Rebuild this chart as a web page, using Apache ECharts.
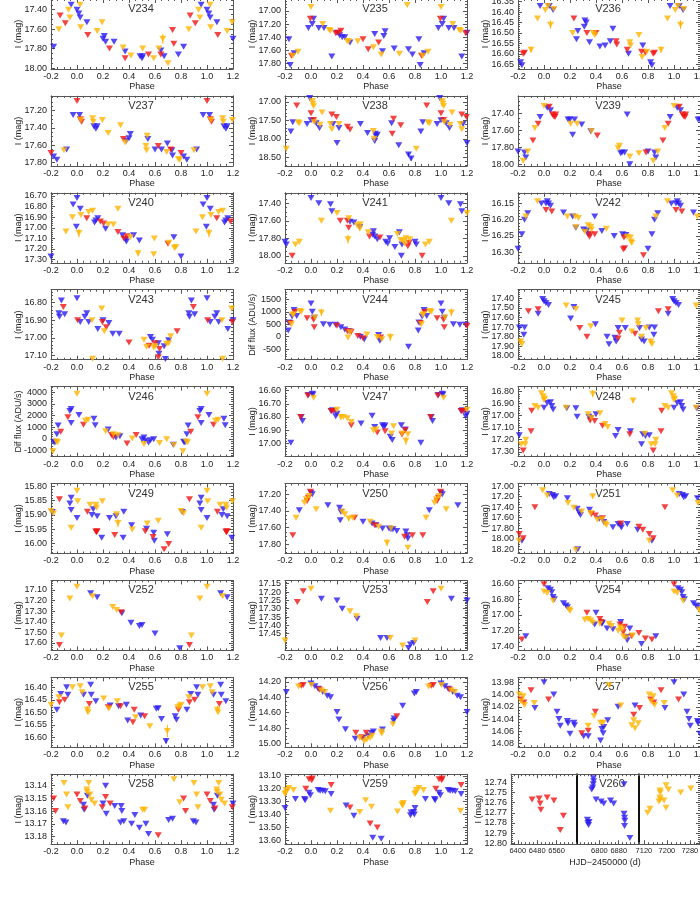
<!DOCTYPE html>
<html><head><meta charset="utf-8">
<script src="https://cdn.jsdelivr.net/npm/echarts@6/dist/echarts.min.js"></script>
<style>html,body{margin:0;padding:0;background:#fff}#c{width:700px;height:900px}</style>
</head><body><div id="c"></div>
<script>
// ---------------- DATA (phase in [0,1), magnitude / flux) ----------------
const PHASE_TICKS = [-0.2,0.0,0.2,0.4,0.6,0.8,1.0,1.2];

const V234_blue=[[0.0,17.40],[0.014,17.44],[0.024,17.48],[0.076,17.53],[0.20,17.70],[0.21,17.67],[0.22,17.73],[0.285,17.73],[0.37,17.83],[0.485,17.88],[0.50,17.90],[0.505,17.88],[0.645,17.82],[0.67,17.88],[0.78,17.86],[0.82,17.78],[0.955,17.35]];
const V234_red=[[0.083,17.66],[0.25,17.80],[0.37,17.90],[0.55,17.86],[0.645,17.86],[0.735,17.61],[0.745,17.75],[0.87,17.46],[0.91,17.54]];
const V234_orange=[[0.024,17.35],[0.028,17.58],[0.155,17.62],[0.193,17.53],[0.355,17.79],[0.415,17.87],[0.505,17.80],[0.59,17.90],[0.63,17.80],[0.66,17.70],[0.70,17.95],[0.86,17.60],[0.935,17.40],[0.945,17.48]];
const V234_err=[[0.66,17.70,0.05,2]];

const V235_blue=[[0.02,17.12],[0.01,17.20],[0.98,17.26],[0.06,17.26],[0.10,17.26],[0.16,17.69],[0.20,17.33],[0.22,17.37],[0.24,17.40],[0.26,17.40],[0.30,17.48],[0.49,17.35],[0.55,17.61],[0.56,17.38],[0.57,17.31],[0.64,17.57],[0.75,17.58],[0.78,17.66],[0.83,17.43],[0.84,17.82],[0.87,17.64]];
const V235_red=[[0.995,17.12],[0.19,17.34],[0.21,17.33],[0.23,17.30],[0.40,17.43],[0.44,17.58],[0.52,17.48],[0.85,17.68]];
const V235_orange=[[0.0,16.94],[0.09,17.20],[0.14,17.29],[0.15,17.30],[0.28,17.46],[0.29,17.46],[0.36,17.46],[0.48,17.55],[0.54,17.66],[0.68,17.65],[0.74,16.91],[0.86,17.68],[0.90,17.62]];

const V236_blue=[[0.82,16.64],[0.83,16.655],[0.97,16.37],[0.04,16.37],[0.07,16.39],[0.25,16.53],[0.26,16.49],[0.31,16.47],[0.315,16.44],[0.325,16.45],[0.35,16.545],[0.43,16.565],[0.47,16.56],[0.51,16.54],[0.53,16.48],[0.65,16.60],[0.76,16.56]];
const V236_red=[[0.84,16.60],[0.23,16.43],[0.33,16.50],[0.40,16.50],[0.555,16.54],[0.56,16.555],[0.64,16.58],[0.75,16.59],[0.78,16.595],[0.85,16.595]];
const V236_orange=[[0.90,16.58],[0.95,16.43],[0.01,16.39],[0.03,16.37],[0.05,16.46],[0.075,16.385],[0.22,16.50],[0.38,16.50],[0.39,16.51],[0.66,16.545],[0.665,16.56],[0.73,16.51],[0.755,16.615],[0.79,16.59]];
const V236_err=[[0.05,16.46,0.02,2],[0.90,16.58,0.015,2]];

const V237_blue=[[0.02,17.25],[0.13,17.38],[0.145,17.41],[0.155,17.38],[0.38,17.55],[0.40,17.52],[0.41,17.47],[0.545,17.53],[0.60,17.65],[0.65,17.65],[0.695,17.58],[0.73,17.66],[0.735,17.72],[0.82,17.73],[0.845,17.77],[0.92,17.65],[0.97,17.25]];
const V237_red=[[0.0,17.09],[0.025,17.30],[0.035,17.33],[0.357,17.53],[0.625,17.61],[0.72,17.65],[0.80,17.69]];
const V237_orange=[[0.03,17.31],[0.12,17.29],[0.125,17.33],[0.195,17.31],[0.24,17.46],[0.335,17.37],[0.37,17.57],[0.53,17.61],[0.535,17.66],[0.54,17.49],[0.69,17.68],[0.79,17.77],[0.78,17.76],[0.90,17.66]];

const V238_blue=[[0.99,16.90],[0.0,17.50],[0.04,17.58],[0.065,17.71],[0.17,17.60],[0.20,18.11],[0.215,17.71],[0.38,17.60],[0.435,17.84],[0.49,18.06],[0.495,17.86],[0.50,17.93],[0.51,17.89],[0.62,17.58],[0.675,18.17],[0.75,18.42],[0.77,18.53],[0.845,17.80],[0.86,17.55],[0.97,17.60]];
const V238_red=[[0.0,17.31],[0.02,17.49],[0.16,17.34],[0.195,17.41],[0.28,17.67],[0.30,17.75],[0.625,17.86],[0.635,17.46],[0.69,17.63],[0.89,17.10]];
const V238_orange=[[0.01,16.98],[0.015,17.05],[0.02,17.12],[0.025,17.55],[0.07,17.62],[0.085,17.29],[0.15,17.60],[0.16,17.74],[0.215,17.60],[0.48,17.79],[0.485,18.00],[0.81,18.27],[0.90,17.55],[0.91,17.58]];
const V238_err=[[0.75,18.42,0.05,0],[0.77,18.53,0.06,0]];

const V239_blue=[[0.025,17.33],[0.05,17.36],[0.185,17.47],[0.20,17.47],[0.22,17.65],[0.235,17.47],[0.29,17.53],[0.36,17.61],[0.59,17.87],[0.60,17.86],[0.62,17.86],[0.64,17.41],[0.66,18.00],[0.80,17.85],[0.85,17.86],[0.86,17.92],[0.97,17.44]];
const V239_red=[[0.04,17.32],[0.065,17.41],[0.075,17.43],[0.09,17.41],[0.085,17.44],[0.41,17.66],[0.785,17.86],[0.915,17.72],[0.955,17.52]];
const V239_orange=[[0.0,17.31],[0.205,17.52],[0.255,17.52],[0.365,17.61],[0.57,17.81],[0.58,17.78],[0.66,17.91],[0.73,17.87],[0.84,17.96],[0.875,17.85],[0.93,17.57]];

const V240_blue=[[0.97,16.78],[0.0,16.72],[0.995,16.99],[0.025,16.82],[0.135,16.95],[0.145,16.93],[0.16,16.91],[0.22,17.01],[0.35,17.07],[0.375,17.11],[0.38,17.13],[0.435,17.07],[0.48,17.12],[0.745,17.09],[0.80,17.27]];
const V240_red=[[0.075,16.91],[0.18,16.94],[0.205,16.96],[0.315,17.04],[0.36,17.10],[0.385,17.08],[0.70,17.15]];
const V240_orange=[[0.965,16.90],[0.015,17.05],[0.03,16.88],[0.09,16.85],[0.12,16.84],[0.24,16.97],[0.28,16.97],[0.315,16.82],[0.41,17.09],[0.47,17.24],[0.595,17.10],[0.59,17.25],[0.705,17.14],[0.75,17.19],[0.76,17.18],[0.915,17.035]];
const V240_err=[[0.015,17.05,0.04,2],[0.47,17.24,0.03,2]];

const V241_blue=[[0.0,17.34],[0.06,17.40],[0.15,17.41],[0.16,17.49],[0.30,17.61],[0.33,17.62],[0.375,17.67],[0.475,17.76],[0.48,17.72],[0.49,17.78],[0.51,17.81],[0.575,17.84],[0.59,17.86],[0.605,17.80],[0.645,17.90],[0.68,17.73],[0.695,18.00],[0.70,17.87],[0.80,17.84],[0.81,17.87]];
const V241_red=[[0.225,17.60],[0.28,17.60],[0.29,17.68],[0.45,17.78],[0.53,17.79],[0.745,17.89],[0.755,17.85],[0.855,18.00]];
const V241_orange=[[0.08,17.60],[0.20,17.51],[0.29,17.57],[0.285,17.81],[0.355,17.65],[0.38,17.64],[0.375,17.69],[0.44,17.73],[0.665,17.75],[0.69,17.82],[0.71,17.83],[0.72,17.86],[0.73,17.80],[0.76,17.81],[0.88,17.87],[0.91,17.84]];
const V241_err=[[0.285,17.81,0.05,2]];

const V242_blue=[[0.98,16.15],[0.015,16.15],[0.025,16.143],[0.035,16.15],[0.05,16.157],[0.15,16.178],[0.22,16.19],[0.245,16.225],[0.305,16.23],[0.33,16.233],[0.34,16.245],[0.39,16.19],[0.445,16.235],[0.54,16.25],[0.605,16.245],[0.63,16.247],[0.80,16.29],[0.83,16.245],[0.85,16.20],[0.875,16.18]];
const V242_red=[[0.015,16.17],[0.06,16.175],[0.35,16.253],[0.355,16.245],[0.39,16.245],[0.615,16.255],[0.62,16.288],[0.61,16.291],[0.765,16.31]];
const V242_orange=[[0.95,16.143],[0.18,16.19],[0.24,16.19],[0.245,16.223],[0.265,16.195],[0.315,16.237],[0.34,16.217],[0.36,16.222],[0.365,16.23],[0.48,16.228],[0.64,16.253],[0.665,16.255],[0.67,16.267],[0.675,16.272],[0.86,16.19]];

const V243_blue=[[0.0,16.774],[0.025,16.91],[0.06,16.88],[0.075,16.86],[0.09,16.91],[0.16,16.95],[0.20,16.90],[0.245,16.915],[0.275,16.977],[0.325,16.977],[0.565,16.995],[0.58,17.01],[0.625,17.03],[0.63,17.09],[0.67,17.048],[0.705,17.013],[0.86,16.86],[0.865,16.88],[0.88,16.787],[0.905,16.866],[0.68,17.12]];
const V243_red=[[0.005,16.90],[0.195,16.91],[0.225,16.94],[0.40,17.026],[0.555,17.045],[0.60,17.03],[0.635,17.063],[0.625,17.11],[0.77,16.962],[0.895,16.824]];
const V243_orange=[[0.115,16.90],[0.19,16.833],[0.21,16.962],[0.515,17.01],[0.535,17.05],[0.59,17.054],[0.60,17.048],[0.69,17.035],[0.705,17.03],[0.72,16.99],[0.12,17.118]];

const V244_blue=[[0.0,1330],[0.01,1000],[0.025,760],[0.095,500],[0.145,480],[0.19,480],[0.23,376],[0.26,285],[0.295,220],[0.38,-3],[0.41,-110],[0.52,65],[0.53,-170],[0.75,-410],[0.825,245],[0.83,570],[0.855,807],[0.87,1070],[0.89,830]];
const V244_red=[[0.02,680],[0.025,376],[0.20,440],[0.28,220],[0.31,200],[0.36,23],[0.40,-70],[0.535,-40],[0.84,545],[0.875,990],[0.97,740]];
const V244_orange=[[0.03,768],[0.08,975],[0.285,-40],[0.30,180],[0.43,90],[0.51,-16],[0.545,-110],[0.61,-16],[0.85,510],[0.86,870],[0.865,900],[0.915,1030],[0.925,1000]];
const V244_err=[[0.08,975,150,2],[0.61,-16,150,2]];

const V245_blue=[[0.99,17.407],[0.0,17.43],[0.015,17.45],[0.035,17.47],[0.205,17.61],[0.23,17.49],[0.395,17.67],[0.485,17.80],[0.50,17.88],[0.545,17.81],[0.555,17.85],[0.57,17.71],[0.625,17.71],[0.735,17.71],[0.75,17.83],[0.77,17.85],[0.81,17.705],[0.845,17.78],[0.85,17.705],[0.955,17.56]];
const V245_red=[[0.275,17.71],[0.33,17.80],[0.57,17.82],[0.58,17.76],[0.70,17.77],[0.88,17.535],[0.955,17.515]];
const V245_orange=[[0.17,17.475],[0.245,17.51],[0.36,17.69],[0.60,17.63],[0.675,17.745],[0.72,17.63],[0.725,17.67],[0.75,17.80],[0.785,17.71],[0.82,17.85],[0.83,17.875]];
const V245_err=[[0.82,17.85,0.03,2]];

const V246_blue=[[0.015,2050],[0.13,1720],[0.14,1160],[0.24,800],[0.30,110],[0.33,220],[0.50,-30],[0.515,110],[0.525,-170],[0.55,-310],[0.565,-110],[0.59,-30],[0.74,-500],[0.82,-250],[0.83,-310],[0.845,390],[0.855,1140],[0.945,2390],[0.955,2560],[0.955,1360]];
const V246_red=[[0.05,1220],[0.265,330],[0.28,170],[0.385,-390],[0.455,330],[0.875,600],[0.93,1860]];
const V246_orange=[[0.0,3860],[0.065,1560],[0.085,1640],[0.22,660],[0.28,390],[0.315,300],[0.425,30],[0.515,-450],[0.635,-360],[0.69,-30],[0.745,-530],[0.815,-1060],[0.84,-220],[0.85,-280]];

const V247_blue=[[0.98,16.633],[0.01,16.625],[0.015,16.63],[0.155,16.755],[0.165,16.75],[0.19,16.795],[0.20,16.775],[0.385,16.85],[0.47,16.79],[0.49,16.875],[0.55,16.862],[0.56,16.875],[0.57,16.865],[0.61,16.95],[0.625,16.975],[0.695,16.862],[0.725,16.895],[0.845,16.995],[0.925,16.80],[0.935,16.83]];
const V247_red=[[0.975,16.637],[0.155,16.755],[0.175,16.755],[0.31,16.862],[0.51,16.918],[0.57,16.908],[0.70,16.933],[0.725,16.90],[0.92,16.80]];
const V247_orange=[[0.02,16.655],[0.20,16.745],[0.23,16.80],[0.25,16.80],[0.28,16.81],[0.31,16.838],[0.48,16.90],[0.50,16.895],[0.62,16.925],[0.635,16.87],[0.70,16.925],[0.73,16.98],[0.745,16.93]];
const V247_err=[[0.73,16.98,0.03,2],[0.23,16.80,0.02,2]];

const V248_blue=[[0.0,16.935],[0.025,16.895],[0.05,16.89],[0.06,16.92],[0.07,16.95],[0.175,16.94],[0.245,16.94],[0.255,17.01],[0.345,17.01],[0.36,17.02],[0.40,16.99],[0.55,17.17],[0.57,17.12],[0.665,17.13],[0.75,17.237],[0.76,17.155],[0.78,17.17],[0.81,17.163]];
const V248_red=[[0.355,17.04],[0.39,17.045],[0.45,17.085],[0.66,17.155],[0.84,17.29],[0.90,17.13],[0.905,16.96]];
const V248_orange=[[0.98,16.815],[0.995,16.84],[0.0,16.87],[0.005,16.86],[0.17,16.935],[0.34,16.99],[0.365,17.02],[0.375,16.82],[0.43,16.98],[0.47,17.07],[0.49,17.095],[0.685,16.876],[0.775,17.15],[0.825,17.237],[0.855,17.237],[0.86,17.20],[0.93,16.92],[0.955,16.935]];
const V248_err=[[0.375,16.82,0.03,2],[0.685,16.876,0.02,2]];

const V249_blue=[[0.0,15.911],[0.115,15.90],[0.125,15.88],[0.155,15.905],[0.19,15.98],[0.25,15.911],[0.30,15.905],[0.36,15.889],[0.355,15.98],[0.42,15.936],[0.535,15.948],[0.59,15.962],[0.595,15.99],[0.695,15.968],[0.81,15.89],[0.945,15.86],[0.955,15.84],[0.955,15.883]];
const V249_red=[[0.08,15.889],[0.145,15.958],[0.15,15.96],[0.155,15.957],[0.29,15.97],[0.525,15.957],[0.585,15.977],[0.67,16.02],[0.705,16.002],[0.865,15.845]];
const V249_orange=[[0.0,15.815],[0.005,15.852],[0.10,15.864],[0.145,15.864],[0.15,15.875],[0.195,15.852],[0.305,15.898],[0.315,15.928],[0.425,15.951],[0.54,15.93],[0.625,15.92],[0.80,15.886],[0.82,15.894],[0.955,15.945]];
const V249_err=[[0.315,15.928,0.015,2],[0.15,15.96,0.008,1]];

const V250_blue=[[0.0,17.18],[0.01,17.20],[0.13,17.33],[0.22,17.36],[0.225,17.51],[0.23,17.41],[0.40,17.53],[0.47,17.55],[0.50,17.57],[0.55,17.61],[0.60,17.61],[0.615,17.62],[0.63,17.62],[0.66,17.64],[0.73,17.645],[0.74,17.69],[0.745,17.73],[0.91,17.39]];
const V250_red=[[0.97,17.28],[0.98,17.24],[0.995,17.17],[0.335,17.48],[0.49,17.57],[0.72,17.71],[0.78,17.69],[0.86,17.69]];
const V250_orange=[[0.95,17.30],[0.965,17.26],[0.985,17.22],[0.04,17.38],[0.24,17.41],[0.26,17.44],[0.29,17.49],[0.32,17.48],[0.455,17.53],[0.52,17.59],[0.585,17.78],[0.615,17.61],[0.745,17.84],[0.885,17.48]];
const V250_err=[[0.585,17.78,0.04,2],[0.29,17.49,0.03,2]];

const V251_blue=[[0.04,17.15],[0.065,17.17],[0.075,17.21],[0.09,17.19],[0.18,17.23],[0.255,17.43],[0.26,18.20],[0.27,17.50],[0.28,17.55],[0.35,17.45],[0.425,17.62],[0.46,17.68],[0.53,17.78],[0.57,17.72],[0.59,17.75],[0.595,17.785],[0.64,17.72],[0.72,17.83],[0.83,18.04]];
const V251_red=[[0.365,17.53],[0.395,17.56],[0.45,17.61],[0.59,17.71],[0.73,17.77],[0.76,17.83],[0.81,17.91],[0.84,17.99],[0.93,17.40]];
const V251_orange=[[0.99,17.08],[0.025,17.18],[0.185,17.32],[0.23,17.41],[0.245,18.21],[0.29,17.48],[0.36,17.51],[0.375,17.19],[0.41,17.64],[0.445,17.63],[0.47,17.71],[0.48,17.74],[0.81,18.04]];
const V251_err=[[0.375,17.19,0.04,2]];

const V252_blue=[[0.105,17.13],[0.155,17.17],[0.345,17.32],[0.415,17.41],[0.48,17.44],[0.50,17.43],[0.60,17.51],[0.79,17.65]];
const V252_red=[[0.34,17.31],[0.865,17.62]];
const V252_orange=[[0.0,17.07],[0.12,17.16],[0.275,17.26],[0.305,17.29],[0.88,17.53],[0.945,17.18]];

const V253_blue=[[0.08,17.24],[0.20,17.25],[0.24,17.30],[0.355,17.36],[0.535,17.475],[0.585,17.475],[0.75,17.535],[0.765,17.515],[0.79,17.505]];
const V253_red=[[0.895,17.26],[0.94,17.195]];
const V253_orange=[[0.0,17.18],[0.30,17.315],[0.35,17.345],[0.61,17.475],[0.705,17.52],[0.80,17.49]];

const V254_blue=[[0.03,16.66],[0.05,16.68],[0.06,16.71],[0.07,16.77],[0.08,16.80],[0.15,16.85],[0.17,16.88],[0.18,16.90],[0.39,17.12],[0.40,16.97],[0.445,17.11],[0.45,17.10],[0.485,17.17],[0.53,17.18],[0.59,17.09],[0.635,17.28],[0.64,17.32],[0.66,17.17],[0.75,17.37],[0.86,17.27]];
const V254_red=[[0.0,16.61],[0.33,16.97],[0.43,17.05],[0.44,17.09],[0.585,17.12],[0.61,17.22],[0.62,17.15],[0.675,17.27],[0.73,17.23],[0.78,17.30],[0.83,17.31]];
const V254_orange=[[0.0,16.70],[0.025,16.72],[0.07,16.82],[0.195,16.93],[0.20,16.95],[0.315,17.06],[0.34,17.05],[0.36,17.07],[0.375,17.10],[0.43,17.11],[0.50,17.11],[0.52,17.14],[0.57,17.20],[0.585,17.16],[0.60,17.18],[0.61,17.27],[0.63,17.29],[0.68,17.26]];

const V255_blue=[[0.05,16.43],[0.105,16.39],[0.11,16.43],[0.145,16.456],[0.255,16.473],[0.32,16.476],[0.38,16.47],[0.39,16.533],[0.49,16.513],[0.61,16.486],[0.625,16.484],[0.65,16.527],[0.685,16.615],[0.755,16.516],[0.765,16.53],[0.845,16.49],[0.875,16.427],[0.92,16.40],[0.93,16.43]];
const V255_red=[[0.095,16.467],[0.24,16.48],[0.335,16.476],[0.43,16.54],[0.44,16.49],[0.52,16.516],[0.78,16.49],[0.865,16.46],[0.905,16.45]];
const V255_orange=[[0.965,16.40],[0.025,16.396],[0.04,16.42],[0.08,16.49],[0.085,16.50],[0.205,16.445],[0.245,16.485],[0.31,16.456],[0.45,16.52],[0.56,16.556],[0.695,16.575],[0.775,16.48],[0.79,16.476],[0.80,16.47],[0.86,16.44]];
const V255_err=[[0.695,16.575,0.025,2],[0.08,16.49,0.015,2],[0.685,16.615,0.01,0]];

const V256_blue=[[0.0,14.22],[0.03,14.255],[0.055,14.29],[0.09,14.33],[0.125,14.38],[0.15,14.40],[0.20,14.59],[0.215,14.69],[0.265,14.815],[0.34,14.94],[0.40,14.93],[0.44,14.90],[0.465,14.865],[0.48,14.845],[0.55,14.82],[0.635,14.705],[0.64,14.675],[0.705,14.51],[0.795,14.35],[0.81,14.33]];
const V256_red=[[0.065,14.30],[0.345,14.86],[0.39,14.92],[0.425,14.86],[0.66,14.645],[0.925,14.25],[0.94,14.24]];
const V256_orange=[[0.005,14.24],[0.08,14.31],[0.105,14.33],[0.375,14.93],[0.41,14.97],[0.43,14.95],[0.455,14.93],[0.47,14.90],[0.54,14.845],[0.545,14.87],[0.63,14.75],[0.905,14.26]];

const V257_blue=[[0.0,13.98],[0.075,14.00],[0.10,14.028],[0.115,14.04],[0.125,14.051],[0.18,14.043],[0.185,14.047],[0.20,14.064],[0.23,14.046],[0.235,14.05],[0.305,14.068],[0.34,14.068],[0.435,14.075],[0.445,14.056],[0.455,14.063],[0.46,14.053],[0.49,14.042],[0.57,14.02],[0.70,14.018],[0.93,14.022]];
const V257_red=[[0.035,14.008],[0.29,14.063],[0.34,14.059],[0.395,14.028],[0.69,14.033],[0.735,14.022],[0.82,14.008],[0.845,14.013],[0.90,13.993]];
const V257_orange=[[0.34,14.051],[0.385,14.035],[0.435,14.046],[0.455,14.046],[0.50,13.985],[0.59,14.018],[0.675,14.05],[0.69,14.042],[0.70,14.055],[0.725,14.047],[0.81,14.00],[0.825,14.011],[0.84,14.003],[0.85,14.017],[0.925,14.014]];

const V258_blue=[[0.05,13.155],[0.055,13.159],[0.08,13.148],[0.20,13.154],[0.22,13.14],[0.225,13.162],[0.29,13.156],[0.34,13.156],[0.345,13.16],[0.335,13.169],[0.36,13.168],[0.42,13.17],[0.445,13.163],[0.48,13.173],[0.53,13.17],[0.55,13.178],[0.705,13.167],[0.735,13.166],[0.895,13.168],[0.915,13.169]];
const V258_red=[[0.0,13.147],[0.025,13.152],[0.06,13.158],[0.195,13.157],[0.22,13.149],[0.255,13.154],[0.625,13.179],[0.82,13.15],[0.835,13.16]];
const V258_orange=[[0.075,13.143],[0.078,13.145],[0.09,13.138],[0.10,13.147],[0.11,13.151],[0.135,13.154],[0.505,13.159],[0.52,13.159],[0.745,13.135],[0.79,13.153],[0.90,13.138],[0.92,13.147],[0.93,13.157]];

const V259_blue=[[0.985,13.23],[0.995,13.25],[0.055,13.21],[0.07,13.215],[0.09,13.215],[0.11,13.22],[0.155,13.24],[0.27,13.33],[0.33,13.41],[0.475,13.58],[0.54,13.587],[0.765,13.405],[0.77,13.385],[0.79,13.38],[0.80,13.35],[0.795,13.40],[0.88,13.28],[0.95,13.28],[0.955,13.29]];
const V259_red=[[0.96,13.20],[0.985,13.126],[0.005,13.134],[0.01,13.12],[0.155,13.17],[0.30,13.345],[0.455,13.47],[0.51,13.50]];
const V259_orange=[[0.805,13.23],[0.15,13.37],[0.375,13.38],[0.42,13.29],[0.465,13.34],[0.665,13.376],[0.70,13.32],[0.705,13.33],[0.71,13.31],[0.80,13.24],[0.81,13.21],[0.83,13.195],[0.865,13.21]];
const V259_err=[[0.70,13.32,0.02,2]];

// V260: HJD-2450000 vs I
const V260_red=[[6459,12.757],[6488,12.756],[6492,12.761],[6495,12.767],[6521,12.755],[6549,12.758],[6575,12.787],[6588,12.773]];
const V260_blue=[[6750,12.777],[6752,12.780],[6755,12.782],[6757,12.779],[6768,12.747],[6772,12.745],[6774,12.742],[6775,12.736],[6776,12.739],[6786,12.757],[6807,12.759],[6818,12.761],[6846,12.758],[6859,12.761],[6902,12.742],[6902,12.771],[6904,12.775],[6905,12.778],[6904,12.783],[6926,12.795]];
const V260_orange=[[7133,12.770],[7141,12.766],[7172,12.759],[7176,12.748],[7177,12.750],[7176,12.755],[7177,12.757],[7190,12.758],[7197,12.743],[7197,12.765],[7205,12.747],[7248,12.750],[7283,12.746]];
const V260_xTicks=[[6400,6480,6560],[6800,6880],[7120,7200,7280]];
const V260_xRanges=[[6372,6644],[6707,6964],[7103,7315]];

const MAG='I (mag)', FLUX='Dif flux (ADU/s)';
const panels=[
 {name:'V234',y:[17.29,18.01],ticks:[17.4,17.6,17.8,18.0],lab:MAG,d:[V234_blue,V234_red,V234_orange],e:V234_err},
 {name:'V235',y:[16.82,17.88],ticks:[17.0,17.2,17.4,17.6,17.8],lab:MAG,d:[V235_blue,V235_red,V235_orange]},
 {name:'V236',y:[16.337,16.673],ticks:[16.35,16.40,16.45,16.50,16.55,16.60,16.65],lab:MAG,d:[V236_blue,V236_red,V236_orange],e:V236_err},
 {name:'V237',y:[17.03,17.84],ticks:[17.2,17.4,17.6,17.8],lab:MAG,d:[V237_blue,V237_red,V237_orange]},
 {name:'V238',y:[16.84,18.73],ticks:[17.0,17.5,18.0,18.5],lab:MAG,d:[V238_blue,V238_red,V238_orange],e:V238_err},
 {name:'V239',y:[17.19,18.02],ticks:[17.4,17.6,17.8,18.0],lab:MAG,d:[V239_blue,V239_red,V239_orange]},
 {name:'V240',y:[16.67,17.33],ticks:[16.7,16.8,16.9,17.0,17.1,17.2,17.3],lab:MAG,d:[V240_blue,V240_red,V240_orange],e:V240_err},
 {name:'V241',y:[17.28,18.08],ticks:[17.4,17.6,17.8,18.0],lab:MAG,d:[V241_blue,V241_red,V241_orange],e:V241_err},
 {name:'V242',y:[16.117,16.333],ticks:[16.15,16.20,16.25,16.30],lab:MAG,d:[V242_blue,V242_red,V242_orange]},
 {name:'V243',y:[16.726,17.124],ticks:[16.8,16.9,17.0,17.1],lab:MAG,d:[V243_blue,V243_red,V243_orange]},
 {name:'V244',y:[-930,1890],ticks:[-500,0,500,1000,1500],lab:FLUX,flux:true,d:[V244_blue,V244_red,V244_orange],e:V244_err},
 {name:'V245',y:[17.31,18.04],ticks:[17.4,17.5,17.6,17.7,17.8,17.9,18.0],lab:MAG,d:[V245_blue,V245_red,V245_orange],e:V245_err},
 {name:'V246',y:[-1520,4480],ticks:[-1000,0,1000,2000,3000,4000],lab:FLUX,flux:true,d:[V246_blue,V246_red,V246_orange]},
 {name:'V247',y:[16.57,17.10],ticks:[16.6,16.7,16.8,16.9,17.0],lab:MAG,d:[V247_blue,V247_red,V247_orange],e:V247_err},
 {name:'V248',y:[16.76,17.34],ticks:[16.8,16.9,17.0,17.1,17.2,17.3],lab:MAG,d:[V248_blue,V248_red,V248_orange],e:V248_err},
 {name:'V249',y:[15.79,16.035],ticks:[15.80,15.85,15.90,15.95,16.00],lab:MAG,d:[V249_blue,V249_red,V249_orange],e:V249_err},
 {name:'V250',y:[17.07,17.91],ticks:[17.2,17.4,17.6,17.8],lab:MAG,d:[V250_blue,V250_red,V250_orange],e:V250_err},
 {name:'V251',y:[16.95,18.28],ticks:[17.0,17.2,17.4,17.6,17.8,18.0,18.2],lab:MAG,d:[V251_blue,V251_red,V251_orange],e:V251_err},
 {name:'V252',y:[17.01,17.67],ticks:[17.1,17.2,17.3,17.4,17.5,17.6],lab:MAG,d:[V252_blue,V252_red,V252_orange]},
 {name:'V253',y:[17.13,17.55],ticks:[17.15,17.20,17.25,17.30,17.35,17.40,17.45],lab:MAG,d:[V253_blue,V253_red,V253_orange]},
 {name:'V254',y:[16.56,17.45],ticks:[16.6,16.8,17.0,17.2,17.4],lab:MAG,d:[V254_blue,V254_red,V254_orange]},
 {name:'V255',y:[16.36,16.64],ticks:[16.40,16.45,16.50,16.55,16.60],lab:MAG,d:[V255_blue,V255_red,V255_orange],e:V255_err},
 {name:'V256',y:[14.14,15.05],ticks:[14.2,14.4,14.6,14.8,15.0],lab:MAG,d:[V256_blue,V256_red,V256_orange]},
 {name:'V257',y:[13.972,14.086],ticks:[13.98,14.00,14.02,14.04,14.06,14.08],lab:MAG,d:[V257_blue,V257_red,V257_orange]},
 {name:'V258',y:[13.131,13.186],ticks:[13.14,13.15,13.16,13.17,13.18],lab:MAG,d:[V258_blue,V258_red,V258_orange]},
 {name:'V259',y:[13.087,13.63],ticks:[13.1,13.2,13.3,13.4,13.5,13.6],lab:MAG,d:[V259_blue,V259_red,V259_orange],e:V259_err}
];
const V260_yRange=[12.732,12.801], V260_yTicks=[12.74,12.75,12.76,12.77,12.78,12.79,12.80];

// ---------------- LAYOUT / STYLE ----------------
const COLORS=['#2a1cf0','#f01414','#ffb400'];
const COLS=[51,285,518], W=182, H=70;
const rowTop=r=>-1+96.9*r;
const AX='#555', TXT='#222', FONT='"Liberation Sans", Arial, sans-serif';

const grids=[], xAxes=[], yAxes=[], series=[], graphics=[];

function stepOf(t){return t.length>1?Math.abs(t[1]-t[0]):1;}
function minorStep(s){const e=Math.pow(10,Math.floor(Math.log10(s)+1e-9));const m=Math.round(s/e);return m===2?s/4:s/5;}
function minorVals(lo,hi,step){const a=[];let k=Math.ceil(Math.min(lo,hi)/step-1e-6);const top=Math.max(lo,hi);for(;k*step<=top+1e-9;k++)a.push(+(k*step).toFixed(6));return a;}
const evens=a=>a.filter((_,i)=>i%2===0), odds=a=>a.filter((_,i)=>i%2===1);

function addGrid(left,top,width,height,xr,xMaj,yr,yMaj,o){
  const gi=grids.length;
  grids.push({left,top,width,height,show:false,containLabel:false,outerBoundsMode:'none'});
  const xMin=minorVals(xr[0],xr[1],minorStep(stepOf(xMaj)));
  const yMin=minorVals(yr[0],yr[1],minorStep(stepOf(yMaj)));
  const xi=xAxes.length, yi=yAxes.length;
  const mk=(pos,vals,len,showLine,lab,isX,extra)=>{
    const a={gridIndex:gi,type:'value',position:pos,splitLine:{show:false},axisPointer:{show:false},
      axisLine:{show:showLine,onZero:false,lineStyle:{color:(extra&&extra.lineColor)||AX,width:(extra&&extra.lineWidth)||1}},
      axisTick:{show:vals.length>0,inside:true,length:len,customValues:vals,lineStyle:{color:AX,width:1}},
      axisLabel:{show:!!lab,customValues:lab?lab.vals:[],margin:lab?lab.margin:0,fontSize:lab&&lab.size?lab.size:9,color:TXT,fontFamily:FONT,formatter:lab?lab.fmt:null,showMinLabel:true,showMaxLabel:true,hideOverlap:false}};
    if(isX){a.min=xr[0];a.max=xr[1];}else{a.min=yr[0];a.max=yr[1];a.inverse=!!o.inverse;}
    return a;
  };
  // labels split alternately over two coincident axes so none get dropped as overlapping
  const xl=o.xLab===false?null:1, yl=o.yLab===false?null:1;
  xAxes.push(mk('bottom',xMaj,4,true,xl&&{vals:evens(xMaj),margin:3,fmt:o.xFmt,size:o.xSize},true));
  xAxes.push(mk('bottom',xMin,2,false,xl&&{vals:odds(xMaj),margin:3,fmt:o.xFmt,size:o.xSize},true));
  xAxes.push(mk('top',o.noTop?[]:xMaj,4,true,null,true));
  xAxes.push(mk('top',o.noTop?[]:xMin,2,false,null,true));
  yAxes.push(mk('left',o.noLeftTicks?[]:yMaj,4,true,yl&&{vals:evens(yMaj),margin:4,fmt:o.yFmt},false,o.leftLine));
  yAxes.push(mk('left',o.noLeftTicks?[]:yMin,2,false,yl&&{vals:odds(yMaj),margin:4,fmt:o.yFmt},false));
  yAxes.push(mk('right',o.noRightTicks?[]:yMaj,4,true,null,false,o.rightLine));
  yAxes.push(mk('right',o.noRightTicks?[]:yMin,2,false,null,false));
  return {xi,yi};
}

function wrap(a){const out=[];for(const r of a){const p=r[0];out.push(r.slice());if(p<=0.2){const c=r.slice();c[0]=+(p+1).toFixed(4);out.push(c);}if(p>=0.8){const c=r.slice();c[0]=+(p-1).toFixed(4);out.push(c);}}return out;}

function addSeries(ax,data,ci){
  series.push({type:'scatter',xAxisIndex:ax.xi,yAxisIndex:ax.yi,data:data,symbol:'triangle',symbolRotate:180,symbolSize:[7,6],
    itemStyle:{color:COLORS[ci]},silent:true,animation:false,clip:true,z:2+ci});
}
function addErr(ax,data){
  series.push({type:'custom',xAxisIndex:ax.xi,yAxisIndex:ax.yi,data:data,silent:true,animation:false,clip:true,z:1,
    renderItem:(params,api)=>{const x=api.value(0),y=api.value(1),e=api.value(2);const p1=api.coord([x,y-e]),p2=api.coord([x,y+e]);
      return {type:'line',shape:{x1:p1[0],y1:p1[1],x2:p2[0],y2:p2[1]},style:{stroke:COLORS[api.value(3)],lineWidth:1}};}});
}
function txt(x,y,text,size,rot,color){
  graphics.push({type:'text',x:x,y:y,rotation:rot||0,silent:true,style:{text:text,font:size+'px '+FONT,fill:color||TXT,align:'center',verticalAlign:'middle'}});
}

const fmtPhase=v=>(Math.abs(v)<1e-9?0:v).toFixed(1);
panels.forEach((p,i)=>{
  const r=Math.floor(i/3), c=i%3;
  const left=COLS[c], top=rowTop(r);
  const yFmt=p.flux?(v=>String(Math.round(v))):(v=>v.toFixed(2));
  const ax=addGrid(left,top,W,H,[-0.2,1.2],PHASE_TICKS,p.y,p.ticks,{inverse:!p.flux,xFmt:fmtPhase,yFmt});
  if(p.e) addErr(ax,wrap(p.e));
  p.d.forEach((arr,ci)=>addSeries(ax,wrap(arr),ci));
  txt(left+90,top+10,p.name,11,0,'#333');
  txt(left+W/2,top+H+18,'Phase',9);
  txt(left-32,top+H/2,p.lab,9,Math.PI/2);
});

// V260 broken-axis panel
(function(){
  const top=rowTop(8);
  const subs=[[511,66],[577,62],[639,61]];
  const yFmt=v=>v.toFixed(2);
  const datas=[V260_red,V260_blue,V260_orange], cidx=[1,0,2];
  subs.forEach((s,k)=>{
    const ax=addGrid(s[0],top,s[1],H,V260_xRanges[k],V260_xTicks[k],V260_yRange,V260_yTicks,{
      inverse:true,xFmt:v=>String(Math.round(v)),xSize:7.5,yFmt,yLab:k===0,
      noLeftTicks:k!==0,noRightTicks:k!==2,
      leftLine:k!==0?{lineColor:'#000',lineWidth:1.5}:null,
      rightLine:k!==2?{lineColor:'#000',lineWidth:1.5}:null});
    addSeries(ax,datas[k],cidx[k]);
  });
  txt(612,top+10,'V260',11,0,'#333');
  txt(605,top+H+18,'HJD\u22122450000 (d)',9);
  txt(511-32,top+H/2,MAG,9,Math.PI/2);
})();

const chart=echarts.init(document.getElementById('c'),null,{renderer:'canvas'});
chart.setOption({animation:false,backgroundColor:'#fff',grid:grids,xAxis:xAxes,yAxis:yAxes,series:series,graphic:{elements:graphics}});
</script></body></html>
